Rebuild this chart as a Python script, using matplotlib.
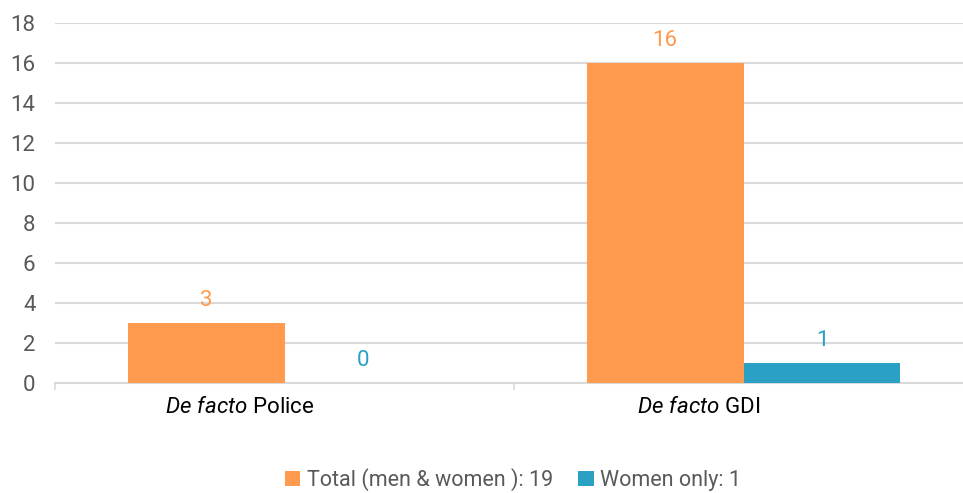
import numpy as np
import matplotlib.pyplot as plt

# Данные
categories = ['Police', 'GDI']
total = [3, 16]
women = [0, 1]
legend_labels = ['Total (men & women ): 19', 'Women only: 1']

orange = '#FF9A4E'
blue = '#2BA0C5'
gray_text = '#595959'
grid_color = '#D9D9D9'

plt.rcParams['font.family'] = ['Roboto', 'DejaVu Sans']
plt.rcParams['mathtext.fontset'] = 'custom'
plt.rcParams['mathtext.it'] = 'Roboto:italic'
plt.rcParams['mathtext.rm'] = 'Roboto'

fig = plt.figure(figsize=(9.63, 4.93), dpi=100)
ax = fig.add_axes([55 / 963, 1 - 383 / 493, 918 / 963, 360 / 493])

x = np.arange(len(categories))
w = 0.342
b1 = ax.bar(x - w / 2, total, w, color=orange, label=legend_labels[0], zorder=3)
b2 = ax.bar(x + w / 2, women, w, color=blue, label=legend_labels[1], zorder=3)

# Подписи значений
for bars, col in ((b1, orange), (b2, blue)):
    for r in bars:
        ax.annotate(f'{int(r.get_height())}', (r.get_x() + r.get_width() / 2, r.get_height()),
                    xytext=(0, 9), textcoords='offset points', ha='center', va='bottom',
                    color=col, fontsize=16)

# Оси
ax.set_xlim(-0.5, 1.5)
ax.set_ylim(0, 18)
ax.set_yticks(np.arange(0, 19, 2))
ax.tick_params(axis='y', length=0, labelsize=16, labelcolor=gray_text, pad=14)
ax.set_xticks([-0.5, 0.5, 1.5])
ax.set_xticklabels([])
ax.tick_params(axis='x', length=5, color=grid_color, width=1.2)
ax.set_xticks(x - 0.098, minor=True)
ax.set_xticklabels([r'$\it{De\ facto}$ ' + c for c in categories], minor=True)
ax.tick_params(axis='x', which='minor', length=0, labelsize=16, labelcolor='black', pad=10)

for s in ['top', 'right', 'left']:
    ax.spines[s].set_visible(False)
ax.spines['bottom'].set_color(grid_color)
ax.spines['bottom'].set_linewidth(1.5)
ax.yaxis.grid(True, color=grid_color, linewidth=1.5)
ax.set_axisbelow(True)

# Легенда
fig.legend(handles=[b1, b2], loc='center', bbox_to_anchor=(513 / 963, 1 - 480 / 493),
           ncol=2, frameon=False, fontsize=15.5, labelcolor=gray_text,
           handlelength=0.7, handleheight=0.7, handletextpad=0.3, columnspacing=1.2,
           borderpad=0.2)

plt.savefig('out.png')
